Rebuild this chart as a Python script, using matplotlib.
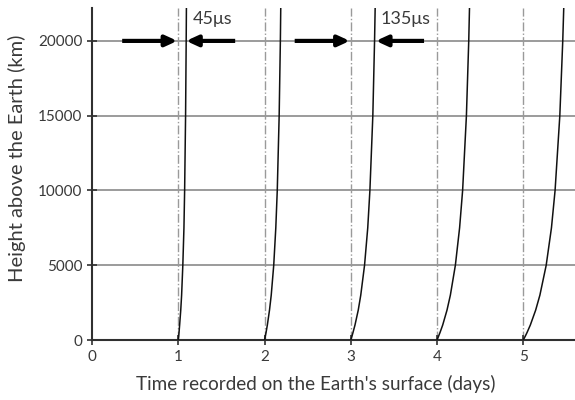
import matplotlib
matplotlib.use("Agg")
import matplotlib.pyplot as plt

# heights (km) at which curve positions were read
heights = [0, 250, 500, 1000, 2000, 3000, 5000, 7500, 10000, 15000, 20000, 22500]

# day on which each curve starts
starts = [1, 2, 3, 4, 5]

# extra time (days) beyond start
offsets = [
    [0, 0.005, 0.009, 0.016, 0.029, 0.039, 0.053, 0.066, 0.074, 0.085, 0.092, 0.095],
    [0, 0.009, 0.018, 0.033, 0.058, 0.078, 0.107, 0.131, 0.148, 0.170, 0.184, 0.189],
    [0, 0.014, 0.026, 0.049, 0.087, 0.116, 0.160, 0.197, 0.222, 0.256, 0.276, 0.284],
    [0, 0.018, 0.035, 0.066, 0.116, 0.155, 0.213, 0.262, 0.297, 0.341, 0.368, 0.378],
    [0, 0.023, 0.044, 0.082, 0.144, 0.193, 0.266, 0.327, 0.369, 0.424, 0.458, 0.471],
]

xticks = [0, 1, 2, 3, 4, 5]
yticks = [0, 5000, 10000, 15000, 20000]

# arrow pairs: (tail, tip) in days, at height 20000
arrows = [(0.35, 0.99), (1.66, 1.09), (2.35, 2.99), (3.85, 3.29)]
arrow_h = 20000
labels = ["45\u03bcs", "135\u03bcs"]
label_x = [1.17, 3.34]
label_h = 21450

plt.rcParams["font.family"] = ["Lato", "DejaVu Sans"]
txt = "#3a3a3a"

fig = plt.figure(figsize=(5.75, 4.0), dpi=100)
ax = fig.add_axes([0.16, 0.15, 0.84, 0.83])

for y in yticks[1:]:
    ax.axhline(y, color="#808080", lw=1.1, zorder=1)
for d in starts:
    ax.axvline(d, color="#9a9a9a", lw=1.0, ls="-.", zorder=1)

for s, off in zip(starts, offsets):
    ax.plot([s + o for o in off], heights, color="#111111", lw=1.1, zorder=3)

for tail, tip in arrows:
    ax.annotate("", xy=(tip, arrow_h), xytext=(tail, arrow_h),
                arrowprops=dict(arrowstyle="-|>,head_length=0.7,head_width=0.32",
                                lw=3.0, color="black", shrinkA=0, shrinkB=0,
                                capstyle="butt"),
                zorder=4)
for lx, lab in zip(label_x, labels):
    ax.text(lx, label_h, lab, fontsize=13, color=txt, ha="left", va="center")

ax.set_xlim(0, 5.6)
ax.set_ylim(0, 22200)
ax.set_xticks(xticks)
ax.set_yticks(yticks)
ax.tick_params(direction="inout", length=7, width=1.2, labelsize=11,
               labelcolor=txt, color="#303030")
ax.spines["top"].set_visible(False)
ax.spines["right"].set_visible(False)
ax.spines["left"].set_linewidth(1.5)
ax.spines["bottom"].set_linewidth(1.5)
ax.spines["left"].set_color("#303030")
ax.spines["bottom"].set_color("#303030")

ax.set_xlabel("Time recorded on the Earth's surface (days)", fontsize=13.6,
              color=txt)
ax.xaxis.set_label_coords(0.464, -0.105)
ax.set_ylabel("Height above the Earth (km)", fontsize=14.5, color=txt)
ax.yaxis.set_label_coords(-0.136, 0.548)

fig.savefig("out.png", dpi=100)
